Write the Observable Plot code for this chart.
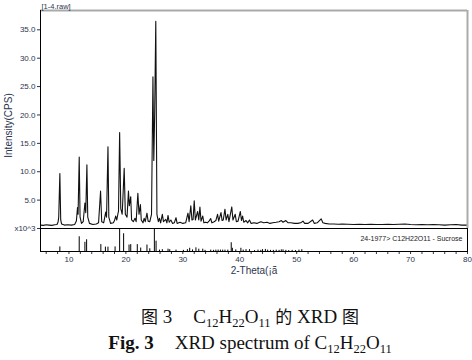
<!DOCTYPE html>
<html><head><meta charset="utf-8">
<script src="https://cdn.jsdelivr.net/npm/d3@7"></script>
<script src="https://cdn.jsdelivr.net/npm/@observablehq/plot@0.6"></script>
<style>
body{margin:0;background:#fff;width:472px;height:360px;overflow:hidden;font-family:"Liberation Sans",Arial,sans-serif}
#chart{position:absolute;left:0;top:0;width:472px;height:290px}
#chart svg{position:absolute;left:0}
.cap{position:absolute;left:14px;width:472px;text-align:center;font-family:"Liberation Serif","Times New Roman",serif;font-size:19px;color:#111;white-space:pre;line-height:20px}
.cap sub{font-size:12.5px;vertical-align:baseline;position:relative;top:4px}
.cjk{font-family:"Noto Sans CJK SC";font-size:17px}
.gap{display:inline-block;width:21px}
</style></head><body>
<div id="chart"></div>
<div class="cap" style="top:306px"><span class="cjk">图</span> 3<span class="gap"></span>C<sub>12</sub>H<sub>22</sub>O<sub>11</sub> <span class="cjk">的</span> XRD <span class="cjk">图</span></div>
<div class="cap" style="top:333px"><b>Fig. 3</b><span class="gap"></span>XRD spectrum of C<sub>12</sub>H<sub>22</sub>O<sub>11</sub></div>
<script>
// Measured pattern: [2-theta (deg), intensity (x10^3 CPS)]
const spectrum = [
[5.0,0.6],[5.5,0.55],[6.0,0.65],[6.5,0.6],[7.0,0.55],[7.5,0.65],[7.9,0.7],[8.1,1.2],[8.2,2.0],[8.4,9.7],[8.55,1.5],[8.7,0.8],
[9.2,0.6],[9.8,0.65],[10.4,0.6],[11.0,0.7],[11.3,1.3],[11.5,3.7],[11.6,2.5],[11.8,12.6],[11.95,2.0],[12.2,0.9],[12.5,1.2],
[12.8,4.5],[12.95,2.8],[13.15,11.2],[13.3,2.0],[13.6,0.9],[14.2,0.7],[14.8,0.8],[15.2,1.0],[15.55,6.6],[15.75,1.2],[16.1,1.0],
[16.45,2.9],[16.6,2.0],[16.85,14.4],[17.0,2.0],[17.3,0.9],[17.8,1.0],[18.0,1.4],[18.2,2.2],[18.4,1.5],[18.6,2.6],[18.7,3.0],
[18.9,16.9],[19.1,3.5],[19.35,2.5],[19.7,10.6],[19.9,2.5],[20.2,2.0],[20.45,6.6],[20.6,4.0],[20.85,5.6],[21.0,1.5],[21.3,1.2],
[21.6,1.8],[21.8,1.2],[22.1,6.2],[22.3,2.5],[22.55,4.2],[22.7,1.5],[23.0,1.0],[23.2,1.8],[23.4,1.2],[23.7,2.7],[23.9,1.3],
[24.2,1.2],[24.5,2.5],[24.75,26.7],[24.9,12.0],[25.05,20.0],[25.25,36.5],[25.45,2.5],[25.7,1.2],[25.9,1.8],[26.1,1.0],
[26.4,2.5],[26.6,1.2],[27.0,1.6],[27.2,1.0],[27.4,2.3],[27.6,1.1],[27.9,1.5],[28.2,0.9],[28.5,1.0],[28.8,1.9],[29.0,0.9],
[29.5,1.1],[30.0,0.9],[30.5,1.0],[30.9,2.7],[31.1,1.2],[31.4,4.0],[31.6,1.5],[31.8,1.6],[32.0,4.9],[32.2,1.5],[32.6,3.0],
[32.8,1.5],[33.0,3.8],[33.2,1.3],[33.5,2.2],[33.7,1.0],[34.0,1.1],[34.3,1.0],[34.6,1.3],[34.9,1.75],[35.1,1.0],[35.5,1.2],
[35.8,1.4],[36.1,2.5],[36.3,1.3],[36.7,2.8],[36.9,1.4],[37.1,1.5],[37.4,3.4],[37.6,1.5],[37.9,2.5],[38.1,1.2],[38.6,3.8],
[38.8,1.5],[39.2,2.5],[39.4,1.2],[39.7,1.3],[40.1,3.0],[40.3,1.4],[40.5,2.2],[40.7,1.1],[41.1,1.4],[41.4,1.0],[41.7,1.5],
[42.0,0.9],[42.5,1.0],[43.0,0.9],[43.7,1.2],[44.2,1.0],[44.8,1.1],[45.3,0.9],[45.8,1.0],[46.4,1.1],[46.9,1.2],[47.3,1.4],
[47.6,1.1],[48.1,1.4],[48.5,1.0],[49.0,1.0],[49.6,0.9],[50.2,0.9],[50.7,1.0],[51.1,1.3],[51.4,0.9],[52.0,0.9],[52.8,1.5],
[53.1,0.9],[53.6,1.0],[54.3,1.7],[54.6,1.0],[55.0,0.9],[55.7,0.8],[56.5,0.8],[57.3,0.75],[58.0,0.8],[59.0,0.75],[60,0.7],
[61,0.75],[62,0.7],[63,0.75],[64,0.7],[65,0.7],[66,0.75],[67,0.7],[68,0.75],[69,0.8],[70,0.7],[71,0.65],[72,0.7],[73,0.65],
[74,0.7],[75,0.65],[76,0.6],[77,0.65],[78,0.7],[79,0.6],[80,0.6]
];
// Reference card 24-1977 (Sucrose): [2-theta, relative intensity %]
const refLines = [
[8.4,20],[11.8,64],[12.8,40],[13.1,51],[15.6,30],[16.4,19],[16.85,19],[18.1,20],[18.9,100],[19.6,77],[20.55,28],[20.85,30],
[22.0,30],[22.6,15],[23.7,28],[24.2,12],[25.0,100],[25.3,45],[25.9,6],[26.4,8],[27.4,10],[27.7,8],[28.8,6],[30.1,5],[30.8,8],
[31.2,14],[31.7,7],[32.3,16],[32.8,10],[33.5,10],[33.9,5],[34.9,6],[35.4,5],[35.8,6],[36.2,6],[36.6,6],[37.0,6],[37.4,6],
[37.9,6],[38.5,38],[38.7,14],[39.3,7],[40.2,14],[40.6,6],[41.1,8],[41.7,8],[42.6,4],[43.2,6],[43.7,5],[44.0,8],[44.5,9],
[44.9,6],[45.4,5],[45.9,5],[46.4,6],[46.9,5],[47.3,7],[47.6,7],[48.1,5],[48.6,4],[49.2,5],[49.8,4],[50.4,6],[50.9,8]
];
const yTicks = [0, 5, 10, 15, 20, 25, 30, 35];
const xTicks = d3.range(6, 81, 2);
const fileLabel = "[1-4.raw]";
const cardLabel = "24-1977> C12H22O11 - Sucrose";
const yTitle = "Intensity(CPS)";
const xTitle = "2-Theta(¡ã";

const ink = "#2b3550";
const font = "Liberation Sans, Arial, sans-serif";

const topPlot = Plot.plot({
  width: 472, height: 228,
  marginLeft: 40, marginRight: 5, marginTop: 10, marginBottom: 0,
  x: {domain: [5, 80], axis: null},
  y: {domain: [0, 38.4], axis: null},
  style: {fontFamily: font, fontSize: "8px", color: ink, background: "transparent", overflow: "visible"},
  marks: [
    Plot.axisY({ticks: yTicks, tickSize: 3, tickPadding: 2, tickFormat: d => d === 0 ? "x10^3" : d.toFixed(1), label: null}),
    Plot.line(spectrum, {x: d => d[0], y: d => d[1], stroke: "#111", strokeWidth: 1.1}),
    Plot.ruleY([38.4], {stroke: "#aaa", strokeWidth: 2}),
    Plot.ruleX([80], {stroke: "#aaa", strokeWidth: 2}),
    Plot.ruleX([5], {stroke: "#000"}),
    Plot.text([fileLabel], {frameAnchor: "top-left", dx: 1, dy: -2, lineAnchor: "bottom", textAnchor: "start", fontSize: 7.5, fill: ink}),
    Plot.text([yTitle], {frameAnchor: "left", textAnchor: "middle", dx: -32, dy: 6, rotate: -90, fontSize: 10, fill: ink})
  ]
});

const botPlot = Plot.plot({
  width: 472, height: 56,
  marginLeft: 40, marginRight: 5, marginTop: 0, marginBottom: 33,
  x: {domain: [5, 80], axis: null},
  y: {domain: [0, 100], axis: null},
  style: {fontFamily: font, fontSize: "8px", color: ink, background: "transparent", overflow: "visible"},
  marks: [
    Plot.axisX({ticks: xTicks, tickSize: 3, tickPadding: 2, tickFormat: d => d % 10 === 0 ? String(d) : "", label: null}),
    Plot.ruleX(refLines, {x: d => d[0], y1: 0, y2: d => d[1], stroke: "#000", strokeWidth: 1}),
    Plot.frame({stroke: "#000"}),
    Plot.text([cardLabel], {frameAnchor: "top-right", dx: -5, dy: 8, fontSize: 7, fill: "#222"}),
    Plot.text([xTitle], {frameAnchor: "bottom", dy: 22, fontSize: 10, fill: ink})
  ]
});

const chart = document.getElementById("chart");
topPlot.style.top = "0px";
botPlot.style.top = "228px";
chart.appendChild(topPlot);
chart.appendChild(botPlot);
</script>
</body></html>
